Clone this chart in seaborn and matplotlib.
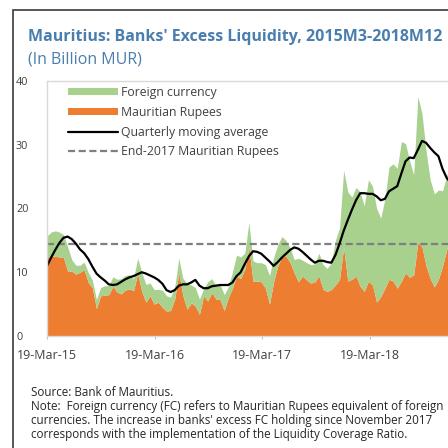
import numpy as np
import pandas as pd
import matplotlib
matplotlib.use("Agg")
import matplotlib.pyplot as plt
import matplotlib.dates as mdates
from matplotlib.patches import Patch, Rectangle
from matplotlib.lines import Line2D
import seaborn as sns

# ---------------- data (billion MUR), fortnightly from 19-Mar-2015 ----------------
start_date = "2015-03-19"
n_points = 99

mur = [12.3, 12.6, 12.5, 12.4, 12.3, 10.2, 10.2, 9.7, 10.0, 10.4,
       8.4, 7.6, 4.3, 6.3, 6.4, 6.5, 7.8, 6.9, 6.6, 7.2,
       7.4, 7.1, 9.8, 7.0, 5.3, 6.3, 5.0, 5.3, 4.5, 3.9,
       4.0, 5.8, 9.9, 6.3, 4.2, 5.2, 4.7, 3.4, 6.3, 5.5,
       6.8, 5.8, 5.7, 4.0, 6.0, 7.5, 9.4, 9.0, 10.5, 13.9,
       8.6, 8.6, 8.5, 7.5, 5.0, 8.5, 11.0, 12.4, 12.5, 11.5,
       9.9, 8.5, 9.4, 8.8, 8.3, 8.5, 9.4, 7.3, 7.0, 7.3,
       8.0, 8.9, 13.9, 8.6, 8.9, 9.4, 7.8, 7.0, 8.6, 8.0,
       5.3, 6.2, 7.5, 8.9, 8.6, 7.5, 8.6, 9.9, 9.2, 9.6,
       14.7, 14.0, 11.0, 9.0, 7.7, 8.9, 11.0, 13.5, 15.5]

total = [15.7, 16.3, 16.5, 16.3, 15.9, 14.0, 12.0, 11.1, 11.1, 11.6,
         10.0, 8.8, 5.7, 7.6, 7.9, 7.9, 9.3, 8.9, 9.0, 9.5,
         9.6, 9.0, 12.2, 10.0, 8.1, 8.3, 7.3, 7.3, 7.2, 6.3,
         6.1, 7.7, 12.2, 9.0, 8.3, 8.0, 7.6, 5.8, 7.4, 8.5,
         9.0, 7.9, 8.1, 6.5, 7.7, 10.0, 12.7, 12.4, 13.0, 17.8,
         11.8, 11.5, 11.5, 11.2, 9.5, 12.3, 14.3, 15.6, 15.0, 13.8,
         12.0, 12.2, 11.9, 11.5, 11.2, 11.3, 13.0, 11.2, 10.6, 11.5,
         15.0, 17.0, 26.0, 22.6, 21.8, 23.3, 22.6, 20.4, 24.5, 23.5,
         20.0, 18.5, 21.5, 26.5, 27.0, 26.3, 30.5, 30.2, 27.5, 25.3,
         37.6, 34.9, 29.0, 24.5, 22.3, 22.9, 22.8, 25.0, 28.0]

moving_avg = [11.0, 12.3, 13.5, 14.6, 15.4, 15.6, 15.2, 14.5, 13.6, 13.0,
              12.1, 10.9, 9.8, 9.2, 8.7, 8.1, 8.0, 8.1, 8.5, 8.9,
              9.2, 9.4, 9.7, 10.0, 9.8, 9.5, 9.2, 8.8, 8.2, 7.2,
              6.9, 7.2, 7.9, 8.1, 8.1, 8.4, 8.8, 7.9, 7.5, 7.5,
              7.8, 7.9, 8.0, 8.0, 8.0, 8.4, 9.4, 10.0, 11.3, 12.5,
              13.3, 13.2, 12.9, 12.3, 11.7, 11.0, 11.6, 12.3, 12.9, 13.5,
              13.9, 13.7, 13.2, 12.6, 12.0, 11.5, 11.8, 11.8, 11.6, 11.5,
              12.7, 14.5, 16.5, 18.2, 19.8, 21.3, 22.4, 22.4, 22.3, 22.3,
              21.9, 21.3, 21.5, 22.7, 23.1, 23.5, 25.5, 27.4, 28.0, 27.9,
              29.2, 30.6, 30.3, 29.5, 28.8, 28.2, 26.2, 24.8, 24.0]

end2017_mur = 14.5

legend_labels = ["Foreign currency", "Mauritian Rupees",
                 "Quarterly moving average", "End-2017 Mauritian Rupees"]
y_ticks = [0, 10, 20, 30, 40]
x_tick_dates = ["2015-03-19", "2016-03-19", "2017-03-19", "2018-03-19"]

title = "Mauritius: Banks' Excess Liquidity, 2015M3-2018M12"
subtitle = "(In Billion MUR)"
footer = ["Source: Bank of Mauritius.",
          "Note:  Foreign currency (FC) refers to Mauritian Rupees equivalent of foreign",
          "currencies. The increase in banks' excess FC holding since November 2017",
          "corresponds with the implementation of the Liquidity Coverage Ratio."]

# ---------------- styling ----------------
GREEN = "#A9D18E"
ORANGE = "#ED7D31"
BLUE = "#4A7EAE"
GRAY_DASH = "#7F7F7F"
FRAME = "#D9D9D9"
TXT = "#404040"

sns.set_theme(style="white")
plt.rcParams["font.family"] = ["Open Sans", "DejaVu Sans"]

dates = pd.date_range(start_date, periods=n_points, freq="14D")
df = pd.DataFrame({"date": dates, "mur": mur, "total": total,
                   "ma": moving_avg, "ref": [end2017_mur] * n_points})

W = H = 448
fig = plt.figure(figsize=(4.48, 4.48), dpi=100)
fig.patch.set_facecolor("white")

# outer frame (cropped on the right / bottom)
fig.add_artist(Rectangle((12.5 / W, -0.1), 1.2, 1 - 10.5 / H + 0.1,
                         transform=fig.transFigure, fill=False,
                         edgecolor="#3A3A3A", lw=1.2))

left, right, top, bottom = 47, 456, 81, 336
ax = fig.add_axes([left / W, 1 - bottom / H, (right - left) / W, (bottom - top) / H])

ax.fill_between(df["date"], 0, df["mur"], color=ORANGE, lw=0)
ax.fill_between(df["date"], df["mur"], df["total"], color=GREEN, lw=0)
sns.lineplot(data=df, x="date", y="ref", ax=ax, color=GRAY_DASH, lw=1.6,
             dashes=False, linestyle=(0, (3.2, 1.6)))
sns.lineplot(data=df, x="date", y="ma", ax=ax, color="black", lw=1.6)

t0 = pd.Timestamp(start_date)
ax.set_xlim(t0, t0 + pd.Timedelta(days=(right - left) / 107.5 * 365.25))
ax.set_ylim(0, 40)
ax.set_xlabel("")
ax.set_ylabel("")

ax.set_yticks(y_ticks)
ax.set_yticklabels([str(v) for v in y_ticks])
ax.set_xticks(pd.to_datetime(x_tick_dates))
ax.xaxis.set_major_formatter(mdates.DateFormatter("%d-%b-%y"))

for s in ax.spines.values():
    s.set_color(FRAME)
    s.set_linewidth(1.0)

# ---- helper: scale a font size so that a text reaches a measured pixel width
fig.canvas.draw()
renderer = fig.canvas.get_renderer()


def fitted_size(text, size, target_px, **kw):
    t = fig.text(0, 0, text, fontsize=size, **kw)
    w = t.get_window_extent(renderer).width
    t.remove()
    return size * target_px / w


xtick_size = fitted_size("19-Mar-15", 9, 60)
ytick_size = fitted_size("40", 9, 12.5)
legend_size = fitted_size("Quarterly moving average", 9, 149)
title_size = fitted_size(title, 11, 414, fontweight="bold")
sub_size = fitted_size(subtitle, 11, 114)
foot_size = fitted_size(footer[1], 8, 413)

ax.tick_params(axis="y", length=0, pad=(left - 16) * 0.72, labelsize=ytick_size,
               labelcolor=TXT)
for lab in ax.get_yticklabels():
    lab.set_horizontalalignment("left")
ax.tick_params(axis="x", length=2.5, width=0.8, color="#BFBFBF", direction="out",
               pad=7, labelsize=xtick_size, labelcolor=TXT, bottom=True)

handles = [Patch(facecolor=GREEN, edgecolor="none"),
           Patch(facecolor=ORANGE, edgecolor="none"),
           Line2D([], [], color="black", lw=1.6),
           Line2D([], [], color=GRAY_DASH, lw=1.6, linestyle=(0, (3.2, 1.6)))]
leg_px = legend_size * 100 / 72
fig.legend(handles, legend_labels, loc="upper left",
           bbox_to_anchor=(68 / W, 1 - 86 / H), bbox_transform=fig.transFigure,
           frameon=False, fontsize=legend_size, handlelength=50 / leg_px,
           handleheight=0.55, handletextpad=3 / leg_px,
           labelspacing=(19 - leg_px) / leg_px, borderpad=0, borderaxespad=0,
           labelcolor=TXT)

fig.text(28 / W, 1 - 37 / H, title, ha="left", va="center", color=BLUE,
         fontsize=title_size, fontweight="bold")
fig.text(28 / W, 1 - 60 / H, subtitle, ha="left", va="center", color=BLUE,
         fontsize=sub_size)

for i, line in enumerate(footer):
    fig.text(31 / W, 1 - (392 + 14.2 * i) / H, line, ha="left", va="center",
             color="#262626", fontsize=foot_size)

fig.savefig("out.png", dpi=100)
